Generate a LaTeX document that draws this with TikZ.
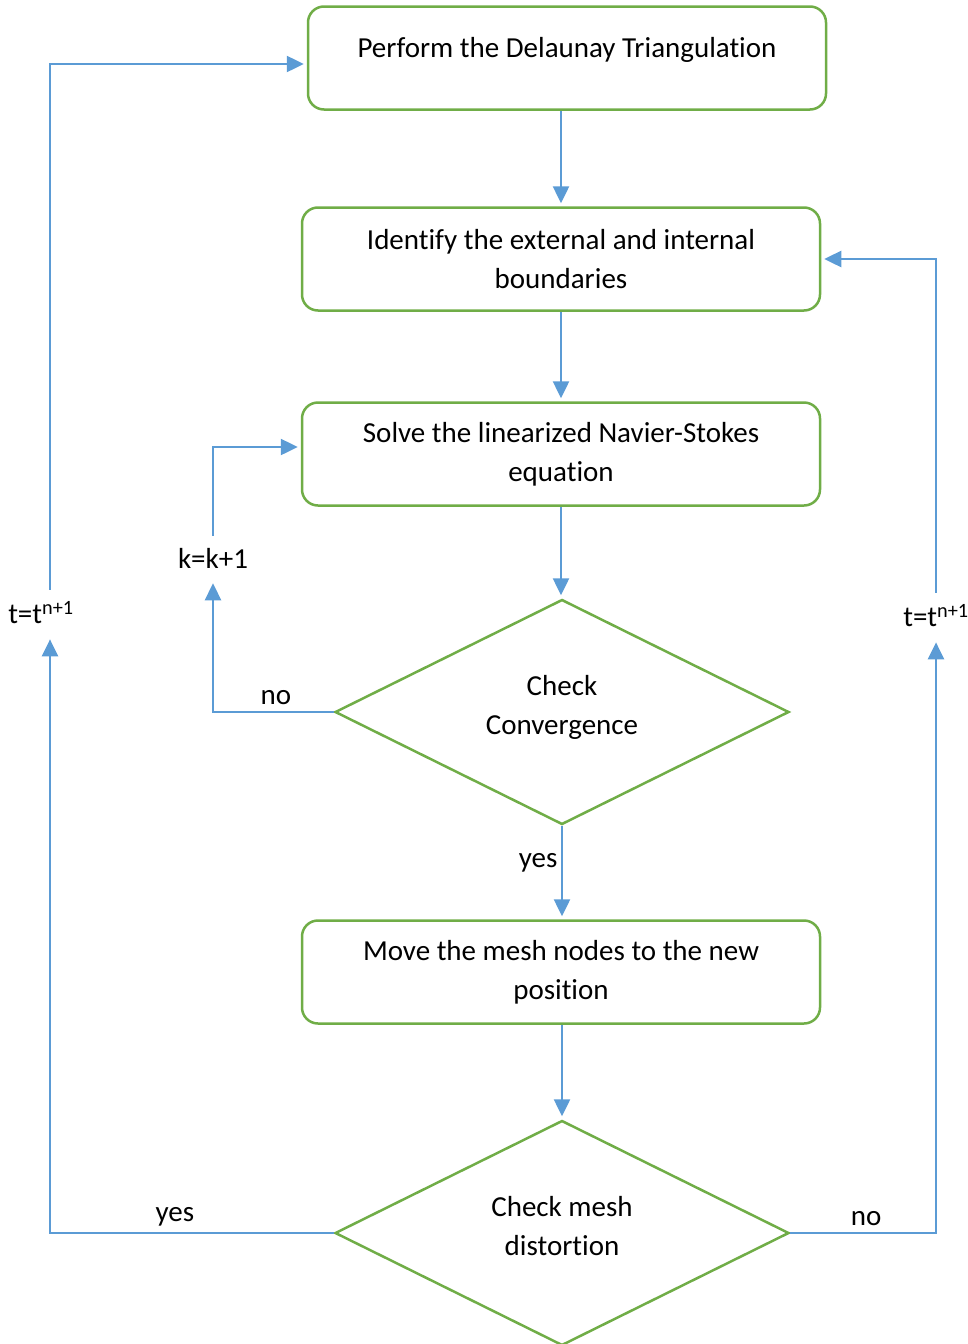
\documentclass[tikz,border=0pt]{standalone}
\usepackage{fontspec}
\setmainfont{Carlito}[Ligatures=CommonOff]
\usetikzlibrary{shapes.geometric,arrows.meta}
\definecolor{lineblue}{HTML}{5B9BD5}
\definecolor{boxgreen}{HTML}{70AD47}
\begin{document}
\begin{tikzpicture}[x=1pt, y=-1pt, font=\fontsize{29}{39}\selectfont,
    box/.style={draw=boxgreen, line width=2.5pt, rounded corners=16pt,
      minimum width=518pt, minimum height=103pt, align=center, inner sep=0pt},
    cond/.style={draw=boxgreen, line width=2.5pt, diamond, aspect=2, text depth=14pt,
      minimum width=454pt, minimum height=225pt, align=center, inner sep=0pt},
    link/.style={draw=lineblue, line width=2.5pt, shorten >=3pt,
      -{Triangle[width=16pt, length=17pt]}},
    tag/.style={inner sep=12pt},
    ans/.style={above=6pt, inner sep=0pt}]
  \useasboundingbox (0,0) rectangle (968,1344);
  % process boxes
  \node[box, text depth=22pt] (B1) at (567,58) {Perform the Delaunay Triangulation};
  \node[box] (B2) at (561,259) {Identify the external and internal\\boundaries};
  \node[box] (B3) at (561,454) {Solve the linearized Navier-Stokes\\equation};
  \node[cond] (D1) at (562,712) {Check\\Convergence};
  \node[box] (B4) at (561,972) {Move the mesh nodes to the new\\position};
  \node[cond] (D2) at (562,1233) {Check mesh\\distortion};
  % loop labels
  \node[tag] (K) at (213,558) {k=k+1};
  \node[tag] (T1) at (41,613) {t=t\textsuperscript{n+1}};
  \node[tag] (T2) at (936,616) {t=t\textsuperscript{n+1}};
  % main flow
  \draw[link] (B2.north |- B1.south) -- (B2.north);
  \draw[link] (B2.south) -- (B3.north);
  \draw[link] (B3.south) -- (B3.south |- D1.north);
  \draw[link] (D1.south) -- node[pos=.4, left] {yes} (D1.south |- B4.north);
  \draw[link] (D1.south |- B4.south) -- (D2.north);
  % inner loop
  \draw[link] (D1.west) -| node[pos=.24, ans] {no} (K.south);
  \draw[link] (K.north) |- ([yshift=7pt]B3.west);
  % outer loops
  \draw[link] (D2.west) -| node[pos=.28, ans] {yes} ([xshift=9pt]T1.south);
  \draw[link] ([xshift=9pt]T1.north) |- ([yshift=-6pt]B1.west);
  \draw[link] (D2.east) -| node[pos=.26, ans] {no} (T2.south);
  \draw[link] (T2.north) |- (B2.east);
\end{tikzpicture}
\end{document}
